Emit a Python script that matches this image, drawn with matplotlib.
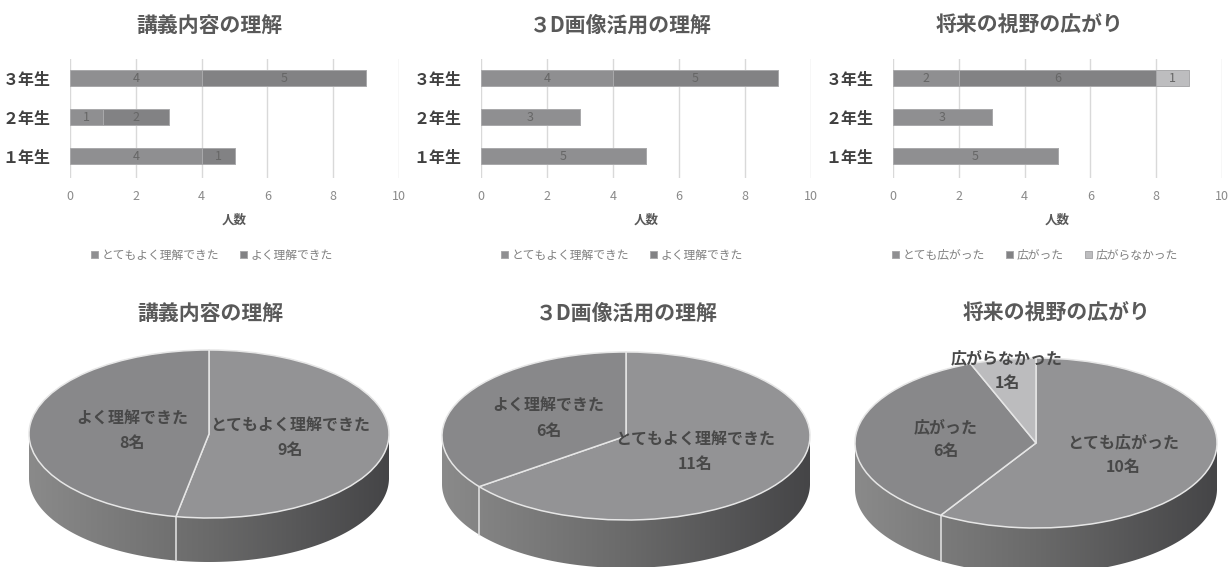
import numpy as np
import matplotlib
matplotlib.use('Agg')
import matplotlib.pyplot as plt
from matplotlib.patches import Polygon
from matplotlib.colors import LinearSegmentedColormap

plt.rcParams['font.family'] = ['Noto Sans CJK JP', 'DejaVu Sans']

W, H = 1231, 567

# ---- data ----
grades = ['１年生', '２年生', '３年生']

titles = ['講義内容の理解', '３D画像活用の理解', '将来の視野の広がり']

bar_labels = [
    ['とてもよく理解できた', 'よく理解できた'],
    ['とてもよく理解できた', 'よく理解できた'],
    ['とても広がった', '広がった', '広がらなかった'],
]
# values per series, ordered 1年生, 2年生, 3年生
bar_values = [
    [[4, 1, 4], [1, 2, 5]],
    [[5, 3, 4], [0, 0, 5]],
    [[5, 3, 2], [0, 0, 6], [0, 0, 1]],
]

pie_labels = [
    ['とてもよく理解できた', 'よく理解できた'],
    ['とてもよく理解できた', 'よく理解できた'],
    ['とても広がった', '広がった', '広がらなかった'],
]
pie_values = [
    [9, 8],
    [11, 6],
    [10, 6, 1],
]

bar_colors = ['#8f8f91', '#828284', '#bdbdbf']
pie_colors = ['#939395', '#88888a', '#bcbcbe']

# ---- layout (pixels) ----
bar_x0 = [70, 481, 893]
bar_x1 = [399, 811, 1222]
bar_title_x = [209, 621, 1030]
legend_x = [212, 622, 1035]

pie_geo = [  # cx, cy, a, b, depth
    (209, 434, 180, 84, 44),
    (626, 436, 184, 84, 48),
    (1036, 443, 181, 85, 46),
]
pie_title_x = [210, 627, 1057]
label_r = [[0.45, 0.43], [0.42, 0.47], [0.5, 0.5, 0.87]]

fig = plt.figure(figsize=(W / 100, H / 100), dpi=100)
fig.patch.set_facecolor('white')


def fx(px):
    return px / W


def fy(py):
    return 1 - py / H


# ---- bar charts ----
for i in range(3):
    top, bot = 58.5, 178
    ax = fig.add_axes([fx(bar_x0[i]), fy(bot), fx(bar_x1[i] - bar_x0[i]), (bot - top) / H])
    y = np.arange(len(grades))
    left = np.zeros(len(grades))
    handles = []
    for j, (lab, vals) in enumerate(zip(bar_labels[i], bar_values[i])):
        vals = np.array(vals, dtype=float)
        b = ax.barh(y, vals, left=left, height=0.42, color=bar_colors[j],
                    edgecolor='#a9a9ab', linewidth=0.7, label=lab, zorder=3)
        handles.append(b)
        for k, v in enumerate(vals):
            if v > 0:
                ax.text(left[k] + v / 2, y[k], f'{int(v)}', ha='center', va='center',
                        fontsize=9, color='#666666', zorder=4)
        left += vals
    ax.set_xlim(0, 10)
    ax.set_ylim(-0.56, 2.5)
    ax.set_xticks(range(0, 11, 2))
    ax.set_yticks(y)
    ax.set_yticklabels(grades, fontsize=11.5, fontweight='bold', color='#404040')
    ax.tick_params(axis='x', length=0, pad=9, labelsize=9, labelcolor='#8a8a8a')
    ax.tick_params(axis='y', length=0, pad=14)
    ax.grid(axis='x', color='#d9d9d9', linewidth=1, zorder=0)
    for s in ax.spines.values():
        s.set_visible(False)
    ax.set_xlabel('人数', fontsize=9, fontweight='bold', color='#595959', labelpad=7)
    fig.text(fx(bar_title_x[i]), fy(25), titles[i], ha='center', va='center',
             fontsize=15, fontweight='bold', color='#595959')
    fig.legend(handles=handles, labels=bar_labels[i], loc='center',
               bbox_to_anchor=(fx(legend_x[i]), fy(255)), ncol=len(handles),
               frameon=False, fontsize=8.5, labelcolor='#808080',
               handlelength=0.6, handleheight=0.6, handletextpad=0.3, columnspacing=1.8)

# ---- 3D-look pie charts ----
wall_cmap = LinearSegmentedColormap.from_list('wall', ['#8a8a8a', '#6a6a6a', '#454547'])

for i in range(3):
    cx, cy, a, b, d = pie_geo[i]
    D = d / b
    m = 1.05
    px_left = cx - m * a
    px_top = cy - m * b
    px_bot = cy + b + d + 0.05 * b
    ax = fig.add_axes([fx(px_left), fy(px_bot), fx(2 * m * a), (px_bot - px_top) / H])
    vals = pie_values[i]
    wedges, _ = ax.pie(vals, startangle=90, counterclock=False,
                       colors=pie_colors[:len(vals)],
                       wedgeprops=dict(edgecolor='#e6e6e6', linewidth=1.1))
    for w in wedges:
        w.set_zorder(5)

    # side wall (front half)
    t = np.linspace(np.pi, 2 * np.pi, 300)
    top_arc = np.column_stack([np.cos(t), np.sin(t)])
    bot_arc = np.column_stack([np.cos(t[::-1]), np.sin(t[::-1]) - D])
    wall = Polygon(np.vstack([top_arc, bot_arc]), closed=True, facecolor='none',
                   edgecolor='none', transform=ax.transData)
    ax.add_patch(wall)
    grad = np.linspace(0, 1, 256).reshape(1, -1)
    im = ax.imshow(grad, extent=(-1, 1, -1 - D, 0), cmap=wall_cmap, aspect='auto', zorder=2)
    im.set_clip_path(wall)

    # slice boundaries on the wall
    bounds = 90 - 360 * np.cumsum([0] + list(vals)) / sum(vals)
    for ang in bounds:
        r = np.deg2rad(ang)
        if np.sin(r) < -0.02:
            ax.plot([np.cos(r), np.cos(r)], [np.sin(r), np.sin(r) - D],
                    color='#e6e6e6', linewidth=1.1, zorder=3)

    # labels
    for k, (lab, v) in enumerate(zip(pie_labels[i], vals)):
        mid = np.deg2rad((bounds[k] + bounds[k + 1]) / 2)
        rr = label_r[i][k]
        ax.text(rr * np.cos(mid), rr * np.sin(mid), f'{lab}\n{v}名', ha='center', va='center',
                fontsize=11.5, fontweight='bold', color='#484848', linespacing=1.65, zorder=6)

    ax.set_aspect('auto')
    ax.set_xlim(-m, m)
    ax.set_ylim(-1 - D - 0.05, m)
    ax.axis('off')

    fig.text(fx(pie_title_x[i]), fy(313), titles[i], ha='center', va='center',
             fontsize=15, fontweight='bold', color='#595959')

fig.savefig('out.png', dpi=100)
